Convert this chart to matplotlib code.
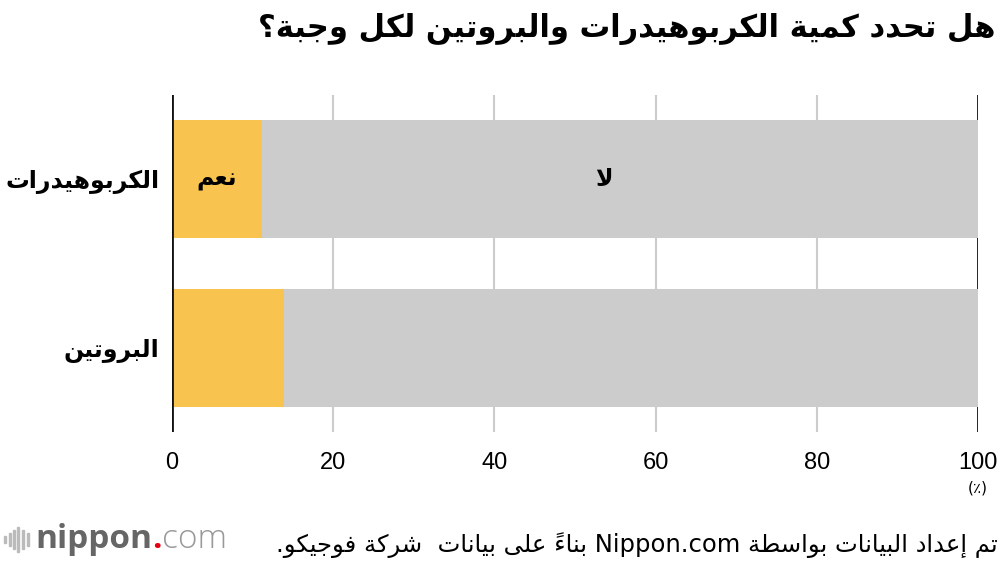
import re
import matplotlib
matplotlib.use("Agg")
import matplotlib.pyplot as plt
from matplotlib import font_manager

# ---------------- data ----------------
categories = ["الكربوهيدرات", "البروتين"]
yes_values = [11.2, 13.9]
no_values = [88.8, 86.1]
x_ticks = [0, 20, 40, 60, 80, 100]
title_text = "هل تحدد كمية الكربوهيدرات والبروتين لكل وجبة؟"
yes_label = "نعم"
no_label = "لا"
unit_label = "(٪)"
source_text = "تم إعداد البيانات بواسطة Nippon.com بناءً على بيانات  شركة فوجيكو."

# ---------------- minimal Arabic shaping ----------------
FORMS = {
    0x0621: (0xFE80, None, None, None),
    0x0622: (0xFE81, 0xFE82, None, None),
    0x0623: (0xFE83, 0xFE84, None, None),
    0x0624: (0xFE85, 0xFE86, None, None),
    0x0625: (0xFE87, 0xFE88, None, None),
    0x0626: (0xFE89, 0xFE8A, 0xFE8B, 0xFE8C),
    0x0627: (0xFE8D, 0xFE8E, None, None),
    0x0628: (0xFE8F, 0xFE90, 0xFE91, 0xFE92),
    0x0629: (0xFE93, 0xFE94, None, None),
    0x062A: (0xFE95, 0xFE96, 0xFE97, 0xFE98),
    0x062B: (0xFE99, 0xFE9A, 0xFE9B, 0xFE9C),
    0x062C: (0xFE9D, 0xFE9E, 0xFE9F, 0xFEA0),
    0x062D: (0xFEA1, 0xFEA2, 0xFEA3, 0xFEA4),
    0x062E: (0xFEA5, 0xFEA6, 0xFEA7, 0xFEA8),
    0x062F: (0xFEA9, 0xFEAA, None, None),
    0x0630: (0xFEAB, 0xFEAC, None, None),
    0x0631: (0xFEAD, 0xFEAE, None, None),
    0x0632: (0xFEAF, 0xFEB0, None, None),
    0x0633: (0xFEB1, 0xFEB2, 0xFEB3, 0xFEB4),
    0x0634: (0xFEB5, 0xFEB6, 0xFEB7, 0xFEB8),
    0x0635: (0xFEB9, 0xFEBA, 0xFEBB, 0xFEBC),
    0x0636: (0xFEBD, 0xFEBE, 0xFEBF, 0xFEC0),
    0x0637: (0xFEC1, 0xFEC2, 0xFEC3, 0xFEC4),
    0x0638: (0xFEC5, 0xFEC6, 0xFEC7, 0xFEC8),
    0x0639: (0xFEC9, 0xFECA, 0xFECB, 0xFECC),
    0x063A: (0xFECD, 0xFECE, 0xFECF, 0xFED0),
    0x0641: (0xFED1, 0xFED2, 0xFED3, 0xFED4),
    0x0642: (0xFED5, 0xFED6, 0xFED7, 0xFED8),
    0x0643: (0xFED9, 0xFEDA, 0xFEDB, 0xFEDC),
    0x0644: (0xFEDD, 0xFEDE, 0xFEDF, 0xFEE0),
    0x0645: (0xFEE1, 0xFEE2, 0xFEE3, 0xFEE4),
    0x0646: (0xFEE5, 0xFEE6, 0xFEE7, 0xFEE8),
    0x0647: (0xFEE9, 0xFEEA, 0xFEEB, 0xFEEC),
    0x0648: (0xFEED, 0xFEEE, None, None),
    0x0649: (0xFEEF, 0xFEF0, None, None),
    0x064A: (0xFEF1, 0xFEF2, 0xFEF3, 0xFEF4),
}
LAMALEF = {0x0622: (0xFEF5, 0xFEF6), 0x0623: (0xFEF7, 0xFEF8),
           0x0625: (0xFEF9, 0xFEFA), 0x0627: (0xFEFB, 0xFEFC)}


def is_mark(c):
    o = ord(c)
    return 0x064B <= o <= 0x065F or o == 0x0670


def shape(s):
    chars = list(s)
    n = len(chars)
    res = []
    skip = set()

    def prev_letter(i):
        j = i - 1
        while j >= 0 and is_mark(chars[j]):
            j -= 1
        return chars[j] if j >= 0 else None

    def next_idx(i):
        j = i + 1
        while j < n and is_mark(chars[j]):
            j += 1
        return j if j < n else None

    for i, c in enumerate(chars):
        if i in skip:
            continue
        o = ord(c)
        if o not in FORMS:
            res.append(c)
            continue
        p = prev_letter(i)
        cp = (p is not None and ord(p) in FORMS and FORMS[ord(p)][2] is not None
              and FORMS[o][1] is not None)
        j = next_idx(i)
        if o == 0x0644 and j is not None and ord(chars[j]) in LAMALEF:
            iso, fin = LAMALEF[ord(chars[j])]
            res.append(chr(fin if cp else iso))
            skip.add(j)
            continue
        cn = (FORMS[o][2] is not None and j is not None and ord(chars[j]) in FORMS
              and FORMS[ord(chars[j])][1] is not None)
        iso, fin, ini, med = FORMS[o]
        if cp and cn:
            g = med
        elif cp:
            g = fin
        elif cn:
            g = ini
        else:
            g = iso
        res.append(chr(g))
    return "".join(res)


def rtl(s):
    v = shape(s)[::-1]
    v = re.sub(r"[A-Za-z0-9]+(?:[.\-][A-Za-z0-9]+)*", lambda m: m.group(0)[::-1], v)
    return v


# ---------------- fonts ----------------
avail = {f.name for f in font_manager.fontManager.ttflist}
narrow = "Liberation Sans Narrow" if "Liberation Sans Narrow" in avail else "Liberation Sans"
AR = ["DejaVu Sans"]
NUM = [narrow, "DejaVu Sans"]

# ---------------- figure ----------------
YELLOW = "#F8C44F"
GRAY = "#CCCCCC"

fig = plt.figure(figsize=(10, 5.62), dpi=100)
ax = fig.add_axes([0.172, 0.231, 0.806, 0.600])

ypos = list(range(len(categories)))
ax.barh(ypos, yes_values, height=0.7, color=YELLOW, zorder=3)
ax.barh(ypos, no_values, left=yes_values, height=0.7, color=GRAY, zorder=3)

ax.set_xlim(0, 100)
ax.set_ylim(len(categories) - 0.5, -0.5)

for t in x_ticks[1:-1]:
    ax.axvline(t, color="#CCCCCC", lw=1.5, zorder=1)
ax.axvline(100, color="#111111", lw=2, zorder=1)
ax.axvline(0, color="#111111", lw=2, zorder=4)

for sp in ax.spines.values():
    sp.set_visible(False)

ax.set_xticks(x_ticks)
ax.set_xticklabels([str(t) for t in x_ticks], fontsize=17, family=NUM)
ax.tick_params(axis="x", length=0, pad=14)
ax.set_yticks(ypos)
ax.set_yticklabels([rtl(c) for c in categories], fontsize=17, fontweight="bold",
                   family=AR)
ax.tick_params(axis="y", length=0, pad=9)

# in-bar labels
ax.text(yes_values[0] / 2, 0, rtl(yes_label), ha="center", va="center",
        fontsize=17, fontweight="bold", family=AR, zorder=5)
ax.text(yes_values[0] + no_values[0] / 2 - 2, 0, rtl(no_label), ha="center",
        va="center", fontsize=17, fontweight="bold", family=AR, zorder=5)

# title
fig.text(0.996, 0.948, rtl(title_text), ha="right", va="center", fontsize=22,
         fontweight="bold", family=AR)

# unit
fig.text(0.978, 0.131, unit_label, ha="center", va="center", fontsize=11,
         family=AR)

# source
fig.text(0.998, 0.030, rtl(source_text), ha="right", va="center", fontsize=17.5,
         family=AR)

# logo
for k, h in enumerate([0.012, 0.022, 0.034, 0.044, 0.034, 0.022]):
    fig.patches.append(plt.Rectangle((0.004 + k * 0.0045, 0.040 - h / 2), 0.002, h,
                                     transform=fig.transFigure, color="#BBBBBB"))
t1 = fig.text(0.035, 0.040, "nippon", ha="left", va="center", fontsize=24,
              fontweight="bold", color="#666666", family=["Open Sans", "DejaVu Sans"])
fig.canvas.draw()
bb = t1.get_window_extent()
x2 = bb.x1 / fig.bbox.width
t2 = fig.text(x2, 0.040, ".", ha="left", va="center", fontsize=24,
              fontweight="bold", color="#E60012", family=["Open Sans", "DejaVu Sans"])
fig.canvas.draw()
x3 = t2.get_window_extent().x1 / fig.bbox.width
fig.text(x3, 0.040, "com", ha="left", va="center", fontsize=24,
         fontweight="light", color="#999999", family=["Open Sans", "DejaVu Sans"])

fig.savefig("out.png", dpi=100)
